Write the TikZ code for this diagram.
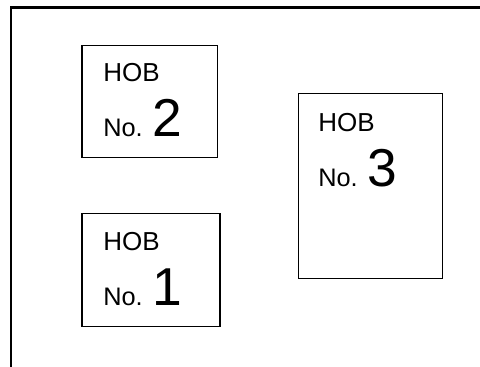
\documentclass[tikz,border=0pt]{standalone}
\usepackage{fontspec}
\setmainfont{Liberation Sans}
\begin{document}
\begin{tikzpicture}[x=0.75pt,y=-0.75pt,
  hob/.style={draw=black,line width=0.9pt,rectangle,inner sep=0pt,anchor=north west},
  lbl/.style={inner sep=0pt,anchor=base west,font=\fontsize{19.5}{19.5}\selectfont},
  num/.style={inner sep=0pt,anchor=base west,font=\fontsize{19}{19}\selectfont}]
\useasboundingbox (0,0) rectangle (480,367);
\coordinate (fb) at (11,367);
\coordinate (fc) at (11,7.5);
\coordinate (fr) at (480,7.5);
\draw[line width=1.6pt] (fb) -- (fc) -- (fr);
% box 2
\node[hob,minimum width=135.5*0.75pt,minimum height=112*0.75pt] (b2) at (81.5,45) {};
\node[lbl] (h2) at (103,81.7) {HOB};
\node[num] (n2) at (103,136.7) {No. {\fontsize{40}{40}\selectfont 2}};
% box 1
\node[hob,minimum width=138*0.75pt,minimum height=112.7*0.75pt] (b1) at (81.5,213) {};
\node[lbl] (h1) at (103,251) {HOB};
\node[num] (n1) at (103,306) {No. {\fontsize{40}{40}\selectfont 1}};
% box 3
\node[hob,minimum width=144.3*0.75pt,minimum height=184.7*0.75pt] (b3) at (297.7,93.3) {};
\node[lbl] (h3) at (318,131.7) {HOB};
\node[num] (n3) at (318,186.7) {No. {\fontsize{40}{40}\selectfont 3}};
\end{tikzpicture}
\end{document}
